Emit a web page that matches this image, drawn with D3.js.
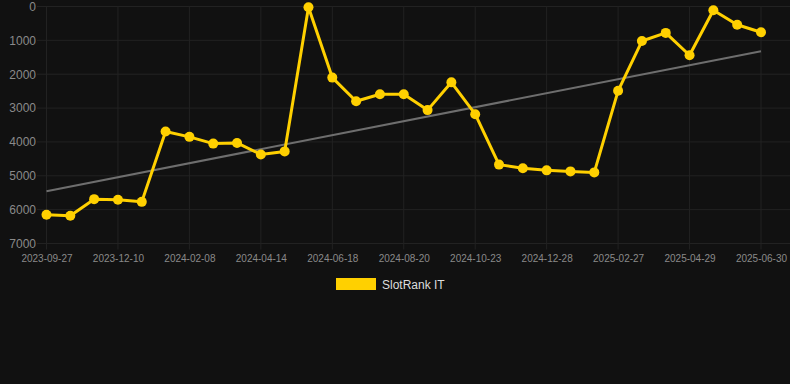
<!DOCTYPE html>
<html>
<head>
<meta charset="utf-8">
<script src="https://cdn.jsdelivr.net/npm/d3@7"></script>
<style>
    body { margin: 0; background: #111111; }
    svg { display: block; font-family: "Liberation Sans", Arial, sans-serif; }
    .grid line { stroke: #222222; stroke-width: 1; }
    .axis text { fill: #8a8a8a; }
    .axis path, .axis line { display: none; }
</style>
</head>
<body>
<svg width="790" height="384"></svg>
<script>
// reference data
const dates = [
    '2023-09-27', '2023-10-22', '2023-11-15', '2023-12-10', '2024-01-01', '2024-01-19',
    '2024-02-08', '2024-03-01', '2024-03-22', '2024-04-14', '2024-05-06', '2024-05-27',
    '2024-06-18', '2024-07-09', '2024-07-30', '2024-08-20', '2024-09-11', '2024-10-02',
    '2024-10-23', '2024-11-14', '2024-12-06', '2024-12-28', '2025-01-18', '2025-02-07',
    '2025-02-27', '2025-03-19', '2025-04-09', '2025-04-29', '2025-05-20', '2025-06-10',
    '2025-06-30'
];
const rankValues = [
    6150, 6180, 5690, 5710, 5770, 3690, 3850, 4050, 4030, 4370, 4280, 20,
    2100, 2800, 2590, 2590, 3060, 2240, 3180, 4670, 4780, 4840, 4870, 4900,
    2490, 1020, 780, 1440, 110, 540, 760
];
const trendValues = [5455, 1320]; // first and last point of the trend line
const yTicks = [0, 1000, 2000, 3000, 4000, 5000, 6000, 7000];
const seriesName = 'SlotRank IT';

let svg = d3.select('svg'),
    gridLeft = 37,
    gridRight = 790,
    x = d3.scalePoint()
        .domain(dates)
        .range([46.5, 761]),
    y = d3.scaleLinear()
        .domain([0, 7000])
        .range([6.5, 243.5]),
    xTicks = dates.filter((d, i) => i % 3 === 0);

// grid
let grid = svg.append('g').attr('class', 'grid');
grid.selectAll('line.h').data(yTicks).enter().append('line')
    .attr('class', 'h')
    .attr('x1', gridLeft).attr('x2', gridRight)
    .attr('y1', d => y(d)).attr('y2', d => y(d));
grid.selectAll('line.v').data(xTicks).enter().append('line')
    .attr('class', 'v')
    .attr('x1', d => x(d)).attr('x2', d => x(d))
    .attr('y1', y(0)).attr('y2', y(7000) + 6);

// axes
svg.append('g')
    .attr('class', 'axis')
    .attr('transform', `translate(${gridLeft - 1}, 0)`)
    .call(d3.axisLeft(y).tickValues(yTicks).tickSize(0).tickPadding(0).tickFormat(d3.format('d')))
    .call(g => g.selectAll('text').attr('font-size', 12).attr('font-family', null));
svg.append('g')
    .attr('class', 'axis')
    .attr('transform', `translate(0, ${y(7000) + 5})`)
    .call(d3.axisBottom(x).tickValues(xTicks).tickSize(0).tickPadding(6))
    .call(g => g.selectAll('text').attr('font-size', 10).attr('font-family', null));

// trend line
svg.append('line')
    .attr('x1', x(dates[0]))
    .attr('x2', x(dates[dates.length - 1]))
    .attr('y1', y(trendValues[0]))
    .attr('y2', y(trendValues[1]))
    .attr('stroke', '#6e6e6e')
    .attr('stroke-width', 2);

// series
let lineFunc = d3.line()
    .x((d, i) => x(dates[i]))
    .y(d => y(d));
svg.append('path')
    .datum(rankValues)
    .attr('d', lineFunc)
    .attr('fill', 'none')
    .attr('stroke', '#FFD000')
    .attr('stroke-width', 3)
    .attr('stroke-linejoin', 'round');
svg.append('g').selectAll('circle').data(rankValues).enter().append('circle')
    .attr('cx', (d, i) => x(dates[i]))
    .attr('cy', d => y(d))
    .attr('r', 5)
    .attr('fill', '#FFD000');

// legend
let legend = svg.append('g');
legend.append('rect')
    .attr('x', 336).attr('y', 278)
    .attr('width', 40).attr('height', 12)
    .attr('fill', '#FFD000');
legend.append('text')
    .attr('x', 382).attr('y', 289)
    .attr('font-size', 12)
    .attr('fill', '#dddddd')
    .text(seriesName);
</script>
</body>
</html>
